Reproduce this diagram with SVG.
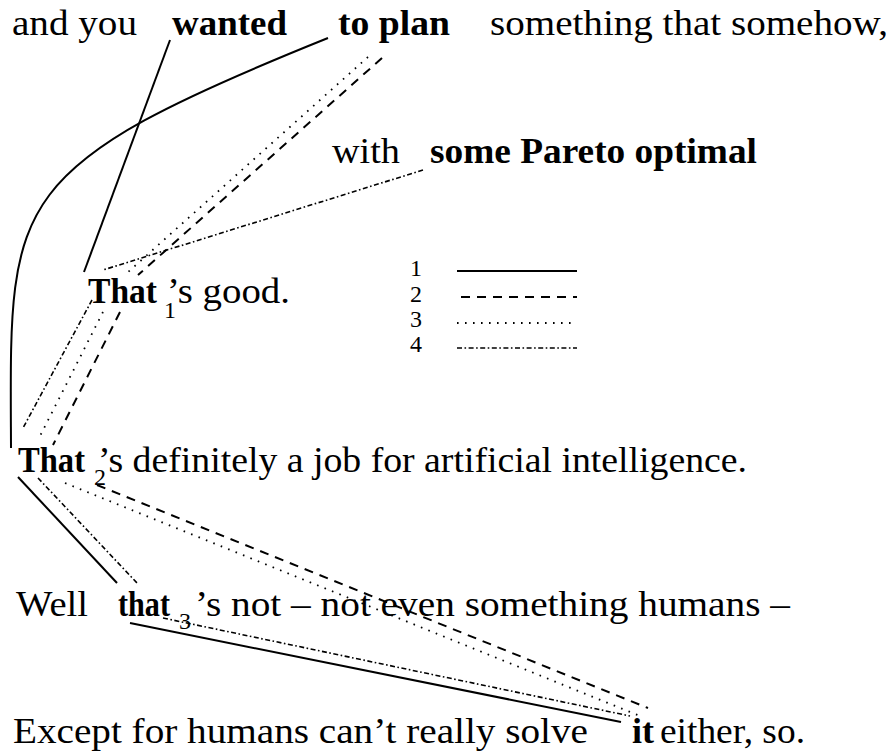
<svg xmlns="http://www.w3.org/2000/svg" width="896" height="751" viewBox="0 0 896 751">
<style>
text{font-family:"Liberation Serif","DejaVu Serif",serif;fill:#000}
.t{font-size:35px}
.b{font-size:35px;font-weight:bold}
.s{font-size:24px}
.l{font-size:24px}
.c{fill:none;stroke:#000}
.solid{stroke-width:2}
.dash{stroke-width:2;stroke-dasharray:9,7}
.dot{stroke-width:1.8;stroke-dasharray:1.6,6.4}
.dd{stroke-width:1.6;stroke-dasharray:5,2.5,1.6,2.5}
</style>
<rect width="896" height="751" fill="#fff"/>
<g id="plain">
<text class="t" x="12" y="35" textLength="125" lengthAdjust="spacingAndGlyphs">and you</text>
<text class="t" x="490" y="35" textLength="398" lengthAdjust="spacingAndGlyphs">something that somehow,</text>
<text class="t" x="332" y="163" textLength="68" lengthAdjust="spacingAndGlyphs">with</text>
<text class="t" x="167" y="303" textLength="123" lengthAdjust="spacingAndGlyphs">’s good.</text>
<text class="t" x="98" y="472" textLength="649" lengthAdjust="spacingAndGlyphs">’s definitely a job for artificial intelligence.</text>
<text class="t" x="16" y="616" textLength="72" lengthAdjust="spacingAndGlyphs">Well</text>
<text class="t" x="195" y="616" textLength="595" lengthAdjust="spacingAndGlyphs">’s not – not even something humans –</text>
<text class="t" x="13" y="743" textLength="575" lengthAdjust="spacingAndGlyphs">Except for humans can’t really solve</text>
<text class="t" x="660" y="743" textLength="145" lengthAdjust="spacingAndGlyphs">either, so.</text>
</g>
<g id="wanted"><text class="b" x="172" y="35" textLength="115" lengthAdjust="spacingAndGlyphs">wanted</text></g>
<g id="to-plan"><text class="b" x="338" y="35" textLength="112" lengthAdjust="spacingAndGlyphs">to plan</text></g>
<g id="pareto"><text class="b" x="430" y="163" textLength="327" lengthAdjust="spacingAndGlyphs">some Pareto optimal</text></g>
<g id="that1"><text class="b" x="88" y="303" textLength="69" lengthAdjust="spacingAndGlyphs">That</text><text class="s" x="164" y="318">1</text></g>
<g id="that2"><text class="b" x="18" y="472" textLength="67" lengthAdjust="spacingAndGlyphs">That</text><text class="s" x="94" y="485">2</text></g>
<g id="that3"><text class="b" x="118" y="616" textLength="52" lengthAdjust="spacingAndGlyphs">that</text><text class="s" x="179" y="629">3</text></g>
<g id="it"><text class="b" x="632" y="743" textLength="22" lengthAdjust="spacingAndGlyphs">it</text></g>
<g id="legend">
<text class="l" x="410" y="276">1</text>
<text class="l" x="410" y="302">2</text>
<text class="l" x="410" y="327">3</text>
<text class="l" x="410" y="352">4</text>
<line class="c solid" x1="457" y1="271" x2="577" y2="271"/>
<line class="c dash" x1="461" y1="297" x2="577" y2="297"/>
<line class="c dot" x1="457" y1="323" x2="577" y2="323"/>
<line class="c dd" x1="457" y1="348" x2="577" y2="348"/>
</g>
<g id="connectors">
<line class="c solid" x1="170" y1="40" x2="84" y2="272"/>
<path class="c solid" d="M328,38 C0,170 10,200 11,448"/>
<line class="c solid" x1="18" y1="477" x2="117" y2="583"/>
<line class="c solid" x1="130" y1="623" x2="621" y2="722"/>
<line class="c dash" x1="382" y1="58" x2="138" y2="275"/>
<line class="c dash" x1="120" y1="312" x2="53" y2="445"/>
<line class="c dash" x1="97" y1="485" x2="648" y2="708"/>
<line class="c dot" x1="368" y1="57" x2="127" y2="273"/>
<line class="c dot" x1="103" y1="312" x2="38" y2="440"/>
<line class="c dot" x1="65" y1="483" x2="640" y2="716"/>
<line class="c dd" x1="423" y1="170" x2="103" y2="270"/>
<line class="c dd" x1="92" y1="300" x2="23" y2="428"/>
<line class="c dd" x1="38" y1="478" x2="137" y2="583"/>
<line class="c dd" x1="163" y1="618" x2="630" y2="716"/>
</g>
</svg>
